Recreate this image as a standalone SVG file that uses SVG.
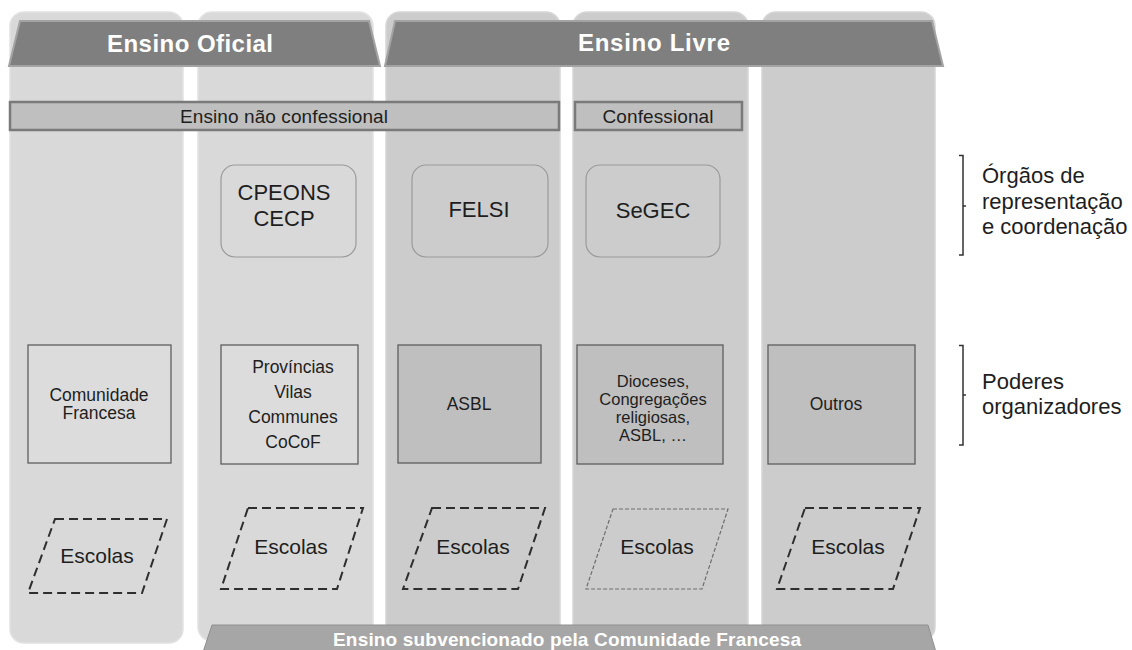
<svg xmlns="http://www.w3.org/2000/svg" width="1132" height="650" viewBox="0 0 1132 650">
  <defs>
    <style>
      text { font-family: "Liberation Sans", Arial, sans-serif; fill: #1e1e1e; }
      .col-light { fill: #d9d9d9; stroke: #e2e2e2; stroke-width: 1.5; }
      .col-dark { fill: #cccccc; stroke: #d6d6d6; stroke-width: 1.5; }
      .banner { fill: #7f7f7f; stroke: #a3a3a3; stroke-width: 2; }
      .banner-low { fill: #a6a6a6; stroke: #8f8f8f; stroke-width: 1; }
      .banner-text { fill: #ffffff; font-weight: bold; text-anchor: middle; }
      .bar { fill: #bfbfbf; stroke: #7a7a7a; stroke-width: 2.5; }
      .bar-text { font-size: 19px; text-anchor: middle; }
      .org { stroke: #9a9a9a; stroke-width: 1.2; }
      .org-text { font-size: 22px; text-anchor: middle; }
      .po { stroke: #5e5e5e; stroke-width: 1.3; }
      .po-text { font-size: 17.5px; text-anchor: middle; }
      .po-tight { font-size: 16.5px; text-anchor: middle; }
      .school { fill: none; stroke: #2e2e2e; stroke-width: 2; stroke-dasharray: 9 5; }
      .school-thin { fill: none; stroke: #6e6e6e; stroke-width: 1.2; stroke-dasharray: 4 2; }
      .school-text { font-size: 21px; text-anchor: middle; }
      .brace { fill: none; stroke: #333333; stroke-width: 1.5; }
      .side-text { font-size: 22px; }
    </style>
  </defs>

  <!-- columns -->
  <g id="columns">
    <rect id="col-oficial" class="col-light" x="10" y="12" width="173" height="631" rx="14"/>
    <rect id="col-nc-oficial" class="col-light" x="198" y="12" width="175" height="629" rx="14"/>
    <rect id="col-nc-livre" class="col-dark" x="386" y="12" width="174" height="629" rx="14"/>
    <rect id="col-confessional" class="col-dark" x="573" y="12" width="175" height="629" rx="14"/>
    <rect id="col-outros" class="col-dark" x="762" y="12" width="173" height="629" rx="14"/>
  </g>

  <!-- top banners -->
  <g id="banner-oficial">
    <polygon class="banner" points="20,21 369,21 380,66 9,66"/>
    <text class="banner-text" x="190" y="52" font-size="24" textLength="166" lengthAdjust="spacing">Ensino Oficial</text>
  </g>
  <g id="banner-livre">
    <polygon class="banner" points="395,21 932,21 943,66 385,66"/>
    <text class="banner-text" x="654" y="51" font-size="24" textLength="152" lengthAdjust="spacing">Ensino Livre</text>
  </g>

  <!-- confessional split -->
  <g id="bar-nao-confessional">
    <rect class="bar" x="10" y="102" width="549" height="28"/>
    <text class="bar-text" x="284" y="123" textLength="208" lengthAdjust="spacing">Ensino não confessional</text>
  </g>
  <g id="bar-confessional">
    <rect class="bar" x="575" y="102" width="167" height="28"/>
    <text class="bar-text" x="658" y="123" textLength="111" lengthAdjust="spacing">Confessional</text>
  </g>

  <!-- representation / coordination bodies -->
  <g id="org-cpeons">
    <rect class="org" fill="#d9d9d9" x="221" y="165" width="135" height="92" rx="14"/>
    <text class="org-text" x="284" y="200">CPEONS</text>
    <text class="org-text" x="284" y="226">CECP</text>
  </g>
  <g id="org-felsi">
    <rect class="org" fill="#cccccc" x="412" y="165" width="136" height="92" rx="14"/>
    <text class="org-text" x="479" y="217">FELSI</text>
  </g>
  <g id="org-segec">
    <rect class="org" fill="#cccccc" x="586" y="165" width="134" height="92" rx="14"/>
    <text class="org-text" x="653" y="218">SeGEC</text>
  </g>

  <!-- organising authorities -->
  <g id="po-comunidade">
    <rect class="po" fill="#dcdcdc" x="28" y="345" width="143" height="118"/>
    <text class="po-text" x="99" y="401">Comunidade</text>
    <text class="po-text" x="99" y="419">Francesa</text>
  </g>
  <g id="po-provincias">
    <rect class="po" fill="#dcdcdc" x="221" y="345" width="137" height="119"/>
    <text class="po-text" x="293" y="373">Províncias</text>
    <text class="po-text" x="293" y="398">Vilas</text>
    <text class="po-text" x="293" y="423">Communes</text>
    <text class="po-text" x="293" y="448">CoCoF</text>
  </g>
  <g id="po-asbl">
    <rect class="po" fill="#bfbfbf" x="398" y="345" width="143" height="118"/>
    <text class="po-text" x="469" y="410">ASBL</text>
  </g>
  <g id="po-dioceses">
    <rect class="po" fill="#bfbfbf" x="577" y="345" width="146" height="119"/>
    <text class="po-tight" x="653" y="387">Dioceses,</text>
    <text class="po-tight" x="653" y="405">Congregações</text>
    <text class="po-tight" x="653" y="423">religiosas,</text>
    <text class="po-tight" x="653" y="441">ASBL, …</text>
  </g>
  <g id="po-outros">
    <rect class="po" fill="#bfbfbf" x="768" y="345" width="147" height="119"/>
    <text class="po-text" x="836" y="410">Outros</text>
  </g>

  <!-- schools -->
  <g id="escolas-1">
    <polygon class="school" points="55,519 167,519 142,593 28,593"/>
    <text class="school-text" x="97" y="563">Escolas</text>
  </g>
  <g id="escolas-2">
    <polygon class="school" points="248,508 363,508 337,589 221,589"/>
    <text class="school-text" x="291" y="554">Escolas</text>
  </g>
  <g id="escolas-3">
    <polygon class="school" points="432,508 545,508 518,589 403,589"/>
    <text class="school-text" x="473" y="554">Escolas</text>
  </g>
  <g id="escolas-4">
    <polygon class="school-thin" points="613,509 728,509 702,589 586,589"/>
    <text class="school-text" x="657" y="554">Escolas</text>
  </g>
  <g id="escolas-5">
    <polygon class="school" points="805,508 920,508 893,589 777,589"/>
    <text class="school-text" x="848" y="554">Escolas</text>
  </g>

  <!-- bottom banner -->
  <g id="banner-subvencionado">
    <polygon class="banner-low" points="212,625 928,625 936,652 203,652"/>
    <text class="banner-text" x="567" y="646" font-size="19" textLength="468" lengthAdjust="spacing">Ensino subvencionado pela Comunidade Francesa</text>
  </g>

  <!-- level braces and labels -->
  <g id="connectors">
    <path class="brace" d="M959,155.5 H963 V255 H959 M963,206 H966"/>
    <path class="brace" d="M959,345.5 H963 V445 H959 M963,395 H966"/>
  </g>
  <g id="label-orgaos">
    <text class="side-text" x="982" y="183">Órgãos de</text>
    <text class="side-text" x="982" y="209">representação</text>
    <text class="side-text" x="982" y="234">e coordenação</text>
  </g>
  <g id="label-poderes">
    <text class="side-text" x="982" y="389">Poderes</text>
    <text class="side-text" x="982" y="414">organizadores</text>
  </g>
</svg>
